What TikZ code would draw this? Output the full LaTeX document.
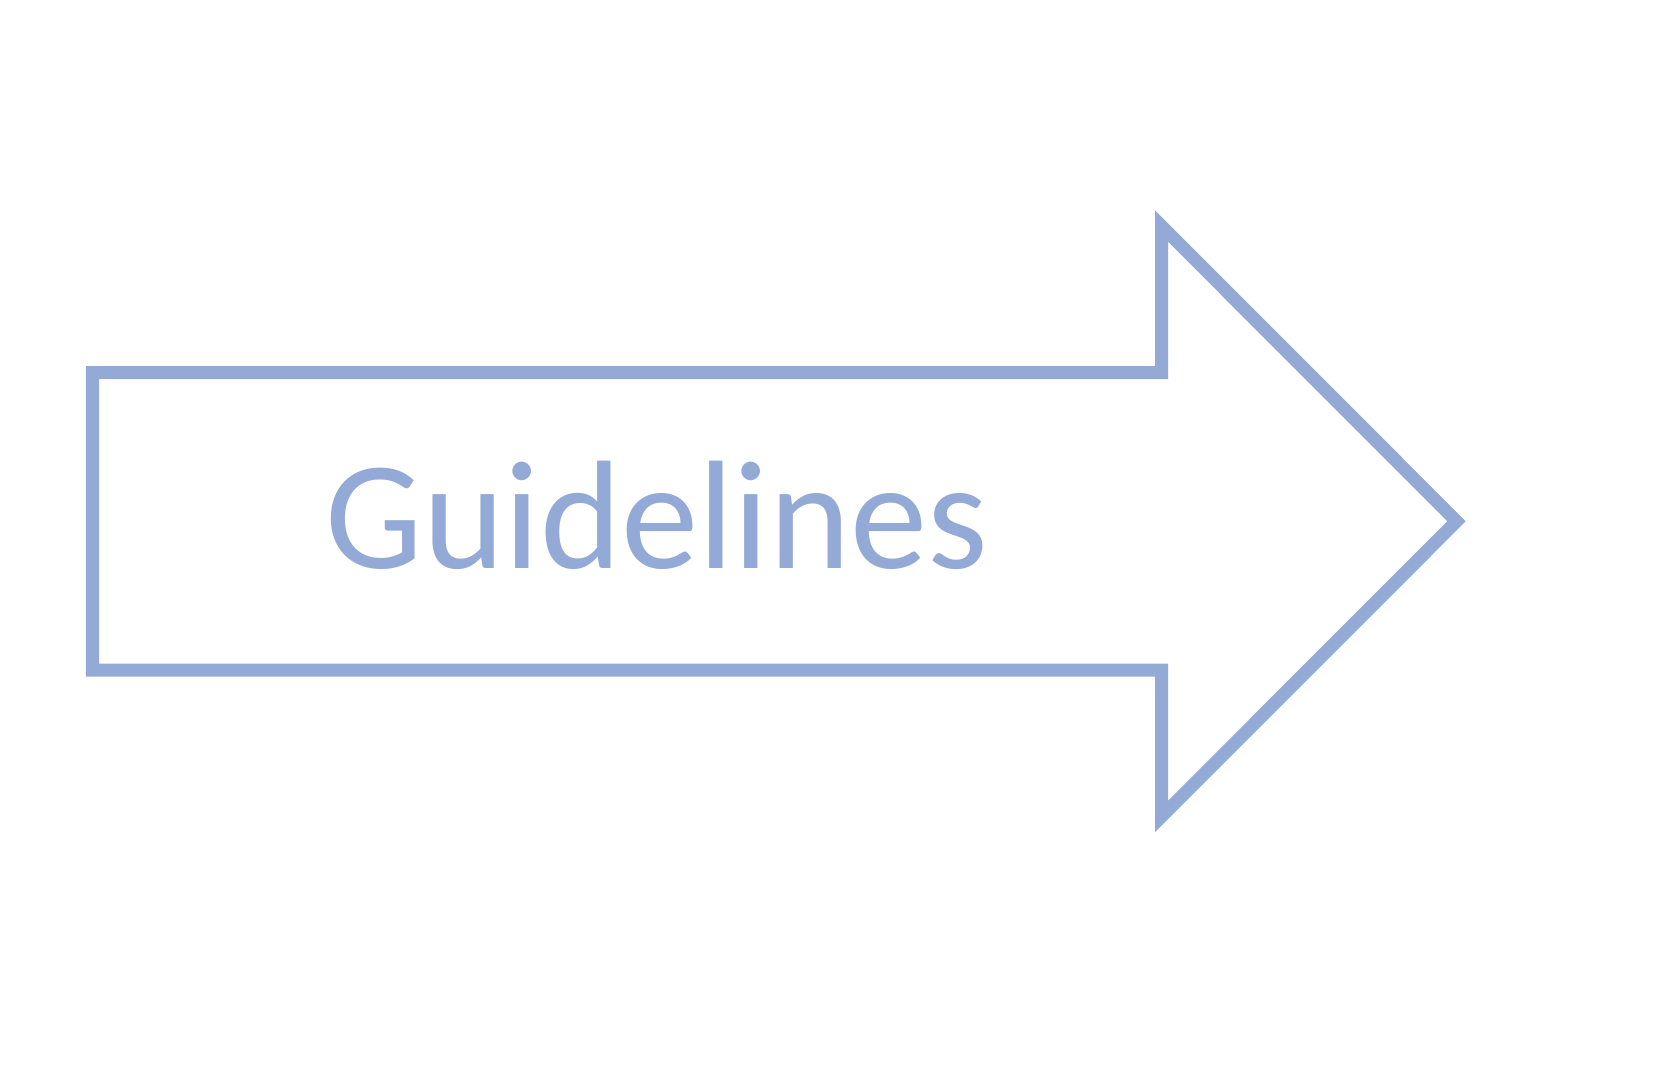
\documentclass[tikz,border=0pt]{standalone}
\usepackage{fontspec}
\setmainfont{Carlito}
\usetikzlibrary{positioning, calc}

\definecolor{arrowblue}{RGB}{148,170,214}

\begin{document}
\begin{tikzpicture}[
  x=0.01cm, y=-0.01cm,
  outline/.style = {draw=arrowblue, line width=0.13cm, line join=miter},
  label/.style   = {text=arrowblue, font=\fontsize{44}{53}\selectfont, inner sep=0pt}
]

% page frame
\useasboundingbox (0,0) rectangle (1666,1066);

%--------------------------------------------------
% Arrow corners
%--------------------------------------------------
\coordinate (shaft_tl) at (92.5,372.5);
\coordinate (shaft_bl) at (92.5,670);
\coordinate (neck_t)   at (1161.5,372.5);
\coordinate (neck_b)   at (1161.5,670);
\coordinate (barb_t)   at (1161.5,226);
\coordinate (barb_b)   at (1161.5,816.5);
\coordinate (tip)      at (1456.5,521.25);

%--------------------------------------------------
% Arrow outline
%--------------------------------------------------
\draw[outline]
  (shaft_tl) -- (neck_t) -- (barb_t) -- (tip)
  -- (barb_b) -- (neck_b) -- (shaft_bl) -- cycle;

% text in the shaft
\node[label, anchor=base] (guide) at (657,568) {Guidelines};

\end{tikzpicture}
\end{document}
